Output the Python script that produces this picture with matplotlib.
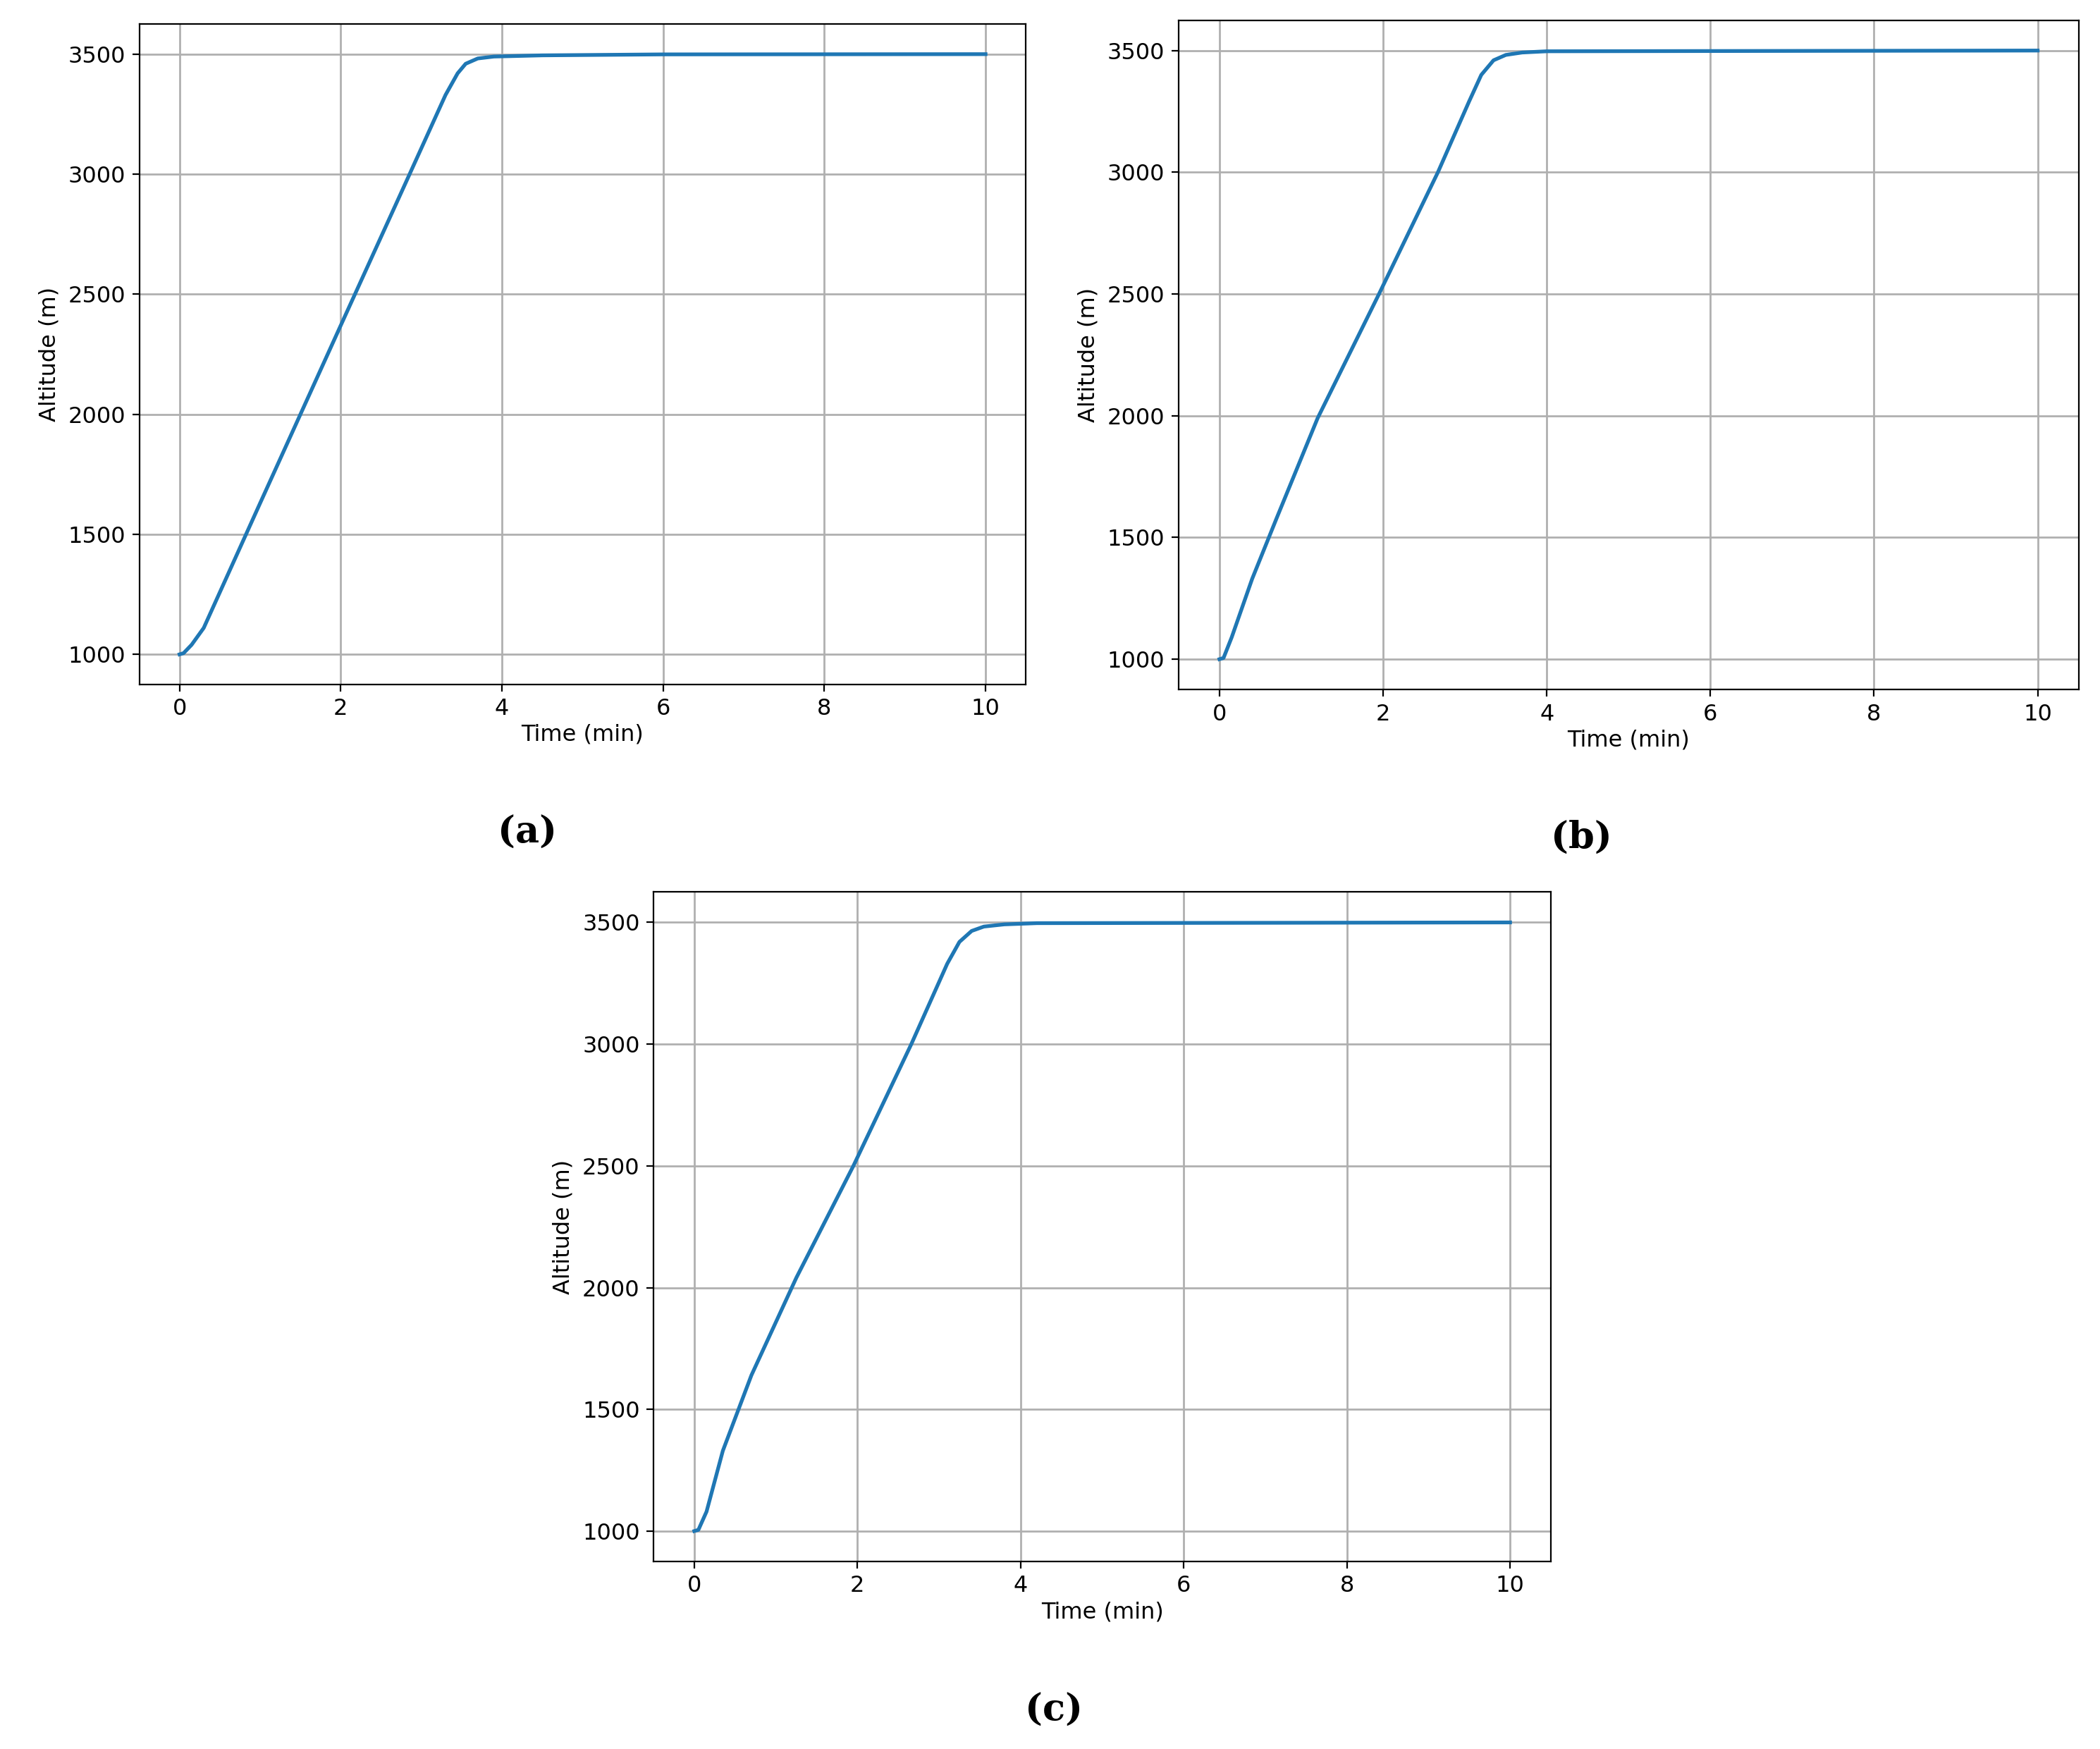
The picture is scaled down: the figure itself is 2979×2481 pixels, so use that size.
import matplotlib.pyplot as plt

# time (min) and altitude (m)
t_a = [0, 0.05, 0.15, 0.3, 1.0, 2.0, 2.8, 3.3, 3.45, 3.55, 3.7, 3.9, 4.5, 6, 10]
alt_a = [1000, 1005, 1040, 1110, 1630, 2370, 2960, 3330, 3420, 3460, 3482, 3490, 3495, 3499, 3500]

t_b = [0, 0.05, 0.15, 0.4, 0.7, 1.2, 1.95, 2.67, 3.05, 3.2, 3.35, 3.5, 3.7, 4, 10]
alt_b = [1000, 1005, 1090, 1330, 1580, 1990, 2500, 3000, 3290, 3400, 3460, 3482, 3492, 3497, 3500]

t_c = [0, 0.05, 0.15, 0.35, 0.7, 1.25, 1.95, 2.66, 3.1, 3.25, 3.4, 3.55, 3.8, 4.2, 10]
alt_c = [1000, 1005, 1080, 1330, 1640, 2040, 2500, 3000, 3330, 3420, 3465, 3483, 3492, 3497, 3500]

panels = [
    ("(a)", t_a, alt_a, [0.0663, 0.6087, 0.4222, 0.3775], (0.251, 0.524)),
    ("(b)", t_b, alt_b, [0.5612, 0.6057, 0.4286, 0.3828], (0.753, 0.521)),
    ("(c)", t_c, alt_c, [0.3112, 0.1072, 0.4273, 0.3828], (0.502, 0.022)),
]

fig = plt.figure(figsize=(14.895, 12.405), dpi=200)

for label, t, alt, rect, pos in panels:
    ax = fig.add_axes(rect)
    ax.plot(t, alt, color="#1f77b4", linewidth=1.9)
    ax.set_xticks([0, 2, 4, 6, 8, 10])
    ax.set_yticks([1000, 1500, 2000, 2500, 3000, 3500])
    ax.grid(True, color="#b0b0b0", linewidth=1.0)
    ax.set_xlabel("Time (min)", fontsize=11.5, labelpad=2)
    ax.set_ylabel("Altitude (m)", fontsize=11.5)
    ax.tick_params(labelsize=11.5)
    fig.text(pos[0], pos[1], label, ha="center", va="center",
             family="DejaVu Serif", fontsize=19, fontweight="bold")

fig.savefig("out.png")
